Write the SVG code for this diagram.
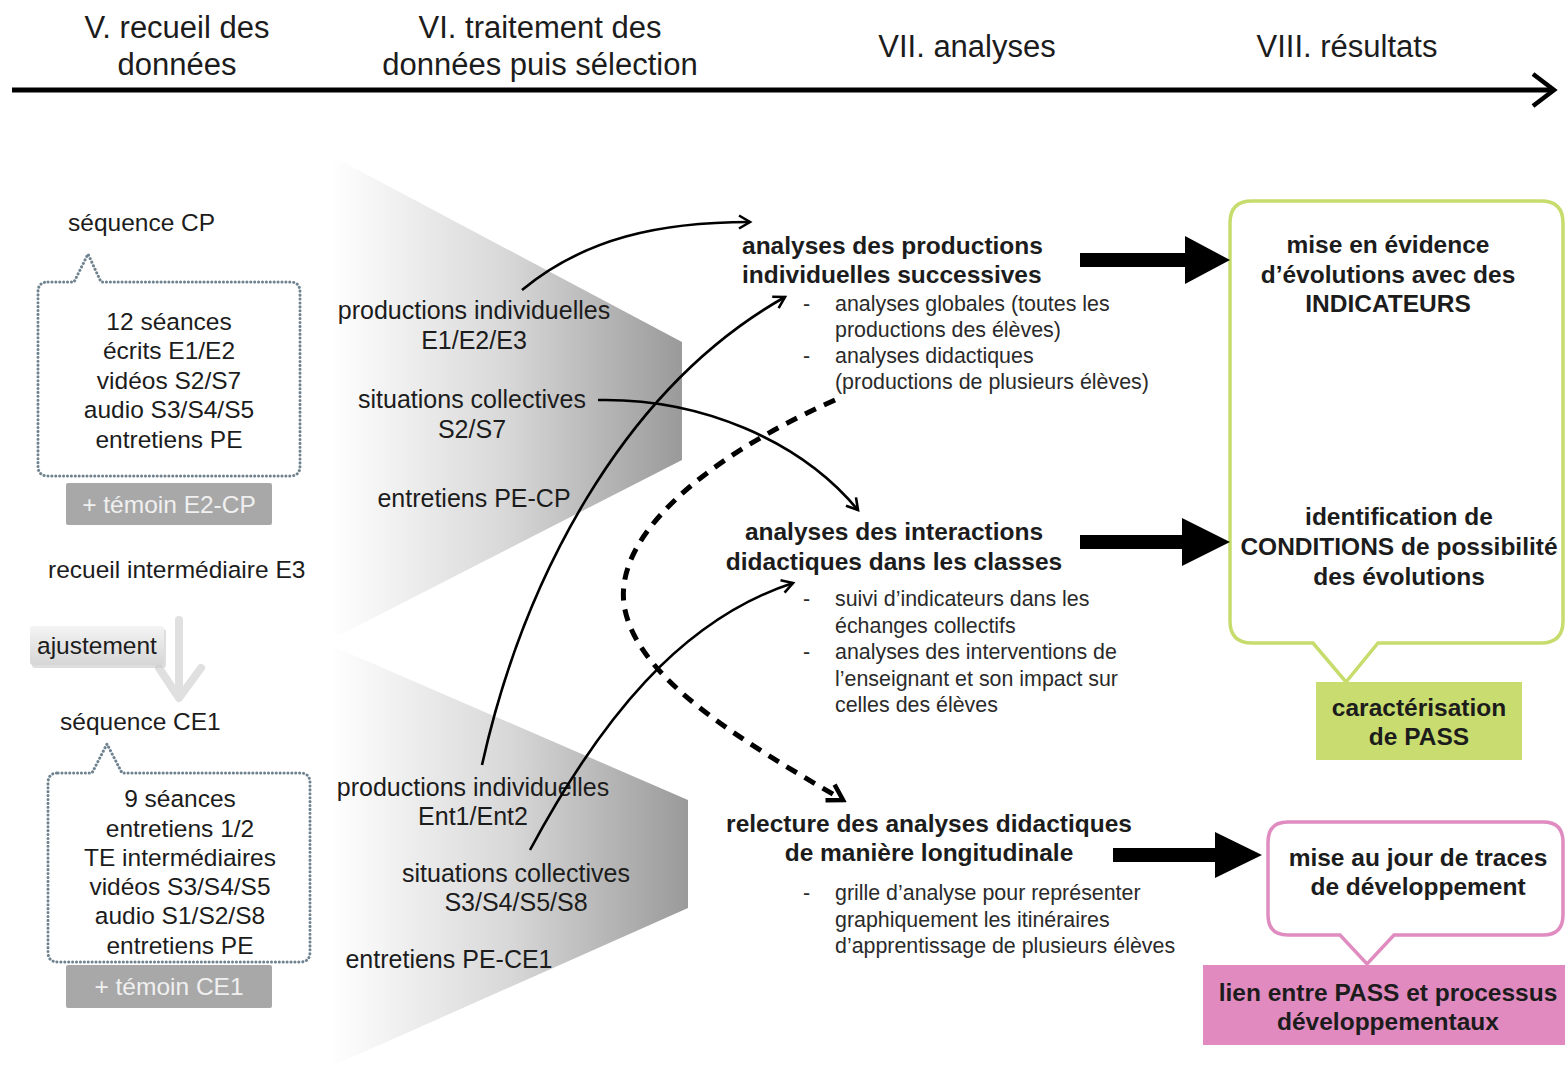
<svg xmlns="http://www.w3.org/2000/svg" width="1565" height="1067" viewBox="0 0 1565 1067">
<defs>
<linearGradient id="fun" x1="0" y1="0" x2="1" y2="0">
<stop offset="0" stop-color="#ffffff"/>
<stop offset="0.5" stop-color="#d8d8d8"/>
<stop offset="1" stop-color="#9a9a9a"/>
</linearGradient>
<linearGradient id="adj" x1="0" y1="0" x2="0" y2="1">
<stop offset="0" stop-color="#f4f4f4"/>
<stop offset="1" stop-color="#d6d6d6"/>
</linearGradient>
<marker id="ah" markerWidth="16" markerHeight="16" refX="13" refY="8" orient="auto" markerUnits="userSpaceOnUse">
<path d="M2,1.5 L13,8 L2,14.5" fill="none" stroke="#000" stroke-width="2.6"/>
</marker>
<marker id="ahd" markerWidth="22" markerHeight="22" refX="18" refY="11" orient="auto" markerUnits="userSpaceOnUse">
<path d="M3,2 L18,11 L3,20" fill="none" stroke="#000" stroke-width="4.5"/>
</marker>
<style>
text{font-family:"Liberation Sans",Arial,sans-serif;fill:#1c1c1c}
.hd{font-size:31px}
.t{font-size:24.5px}
.f{font-size:25px}
.m{text-anchor:middle}
.b{font-weight:bold;font-size:24.5px}
.s{font-size:21.4px;fill:#2a2a2a}
.dot{fill:#fff;stroke:#6f828f;stroke-width:3;stroke-dasharray:0.1 3.8;stroke-linecap:round}
.tem{fill:#a8a8a8}
.tw{fill:#f0f0f0;font-size:24.5px;text-anchor:middle}
.thin{fill:none;stroke:#000;stroke-width:2.6;marker-end:url(#ah)}
.big{fill:#000}
</style>
</defs>
<rect width="1565" height="1067" fill="#fff"/>

<g id="header">
<text class="hd m" x="177" y="38">V. recueil des</text>
<text class="hd m" x="177" y="75">données</text>
<text class="hd m" x="540" y="38">VI. traitement des</text>
<text class="hd m" x="540" y="75">données puis sélection</text>
<text class="hd m" x="967" y="57">VII. analyses</text>
<text class="hd m" x="1347" y="57">VIII. résultats</text>
</g>

<g id="funnel-cp">
<polygon points="330,155 682,342 682,460 330,640" fill="url(#fun)"/>
<text class="f m" x="474" y="319">productions individuelles</text>
<text class="f m" x="474" y="349">E1/E2/E3</text>
<text class="f m" x="472" y="408">situations collectives</text>
<text class="f m" x="472" y="438">S2/S7</text>
<text class="f m" x="474" y="507">entretiens PE-CP</text>
</g>

<g id="funnel-ce1">
<polygon points="330,645 688,800 688,908 330,1067" fill="url(#fun)"/>
<text class="f m" x="473" y="796">productions individuelles</text>
<text class="f m" x="473" y="825">Ent1/Ent2</text>
<text class="f m" x="516" y="882">situations collectives</text>
<text class="f m" x="516" y="911">S3/S4/S5/S8</text>
<text class="f m" x="449" y="968">entretiens PE-CE1</text>
</g>

<g id="sequence-cp">
<text class="t" x="68" y="231">séquence CP</text>
<path class="dot" d="M48,282 L74,282 L88,254 L101,282 L290,282 Q300,282 300,292 L300,466 Q300,476 290,476 L48,476 Q38,476 38,466 L38,292 Q38,282 48,282 Z"/>
<text class="t m" x="169" y="330">12 séances</text>
<text class="t m" x="169" y="359">écrits E1/E2</text>
<text class="t m" x="169" y="389">vidéos S2/S7</text>
<text class="t m" x="169" y="418">audio S3/S4/S5</text>
<text class="t m" x="169" y="448">entretiens PE</text>
</g>

<g id="temoin-cp">
<rect class="tem" x="66" y="483" width="206" height="42" rx="2"/>
<text class="tw" x="169" y="513">+ témoin E2-CP</text>
</g>

<g id="recueil-e3">
<text class="t" x="48" y="578">recueil intermédiaire E3</text>
</g>

<g id="ajustement">
<path d="M179,620 L179,696 M159,668 L179,698 L201,668" fill="none" stroke="#e0e0e0" stroke-width="8" stroke-linecap="round" stroke-linejoin="round"/>
<rect x="32" y="629" width="134" height="39" rx="3" fill="#c8c8c8" opacity="0.6"/>
<rect x="30" y="626" width="134" height="39" rx="3" fill="url(#adj)"/>
<text class="t" x="37" y="654">ajustement</text>
</g>

<g id="sequence-ce1">
<text class="t" x="60" y="730">séquence CE1</text>
<path class="dot" d="M58,773 L92,773 L107,744 L122,773 L300,773 Q310,773 310,783 L310,952 Q310,962 300,962 L58,962 Q48,962 48,952 L48,783 Q48,773 58,773 Z"/>
<text class="t m" x="180" y="807">9 séances</text>
<text class="t m" x="180" y="837">entretiens 1/2</text>
<text class="t m" x="180" y="866">TE intermédiaires</text>
<text class="t m" x="180" y="895">vidéos S3/S4/S5</text>
<text class="t m" x="180" y="924">audio S1/S2/S8</text>
<text class="t m" x="180" y="954">entretiens PE</text>
</g>

<g id="temoin-ce1">
<rect class="tem" x="66" y="965" width="206" height="43" rx="2"/>
<text class="tw" x="169" y="995">+ témoin CE1</text>
</g>

<g id="analyses-productions">
<text class="b" x="742" y="254">analyses des productions</text>
<text class="b" x="742" y="283">individuelles successives</text>
<text class="s" x="803" y="311">-</text>
<text class="s" x="835" y="311">analyses globales (toutes les</text>
<text class="s" x="835" y="337">productions des élèves)</text>
<text class="s" x="803" y="363">-</text>
<text class="s" x="835" y="363">analyses didactiques</text>
<text class="s" x="835" y="389">(productions de plusieurs élèves)</text>
</g>

<g id="analyses-interactions">
<text class="b m" x="894" y="540">analyses des interactions</text>
<text class="b m" x="894" y="570">didactiques dans les classes</text>
<text class="s" x="803" y="606">-</text>
<text class="s" x="835" y="606">suivi d’indicateurs dans les</text>
<text class="s" x="835" y="633">échanges collectifs</text>
<text class="s" x="803" y="659">-</text>
<text class="s" x="835" y="659">analyses des interventions de</text>
<text class="s" x="835" y="686">l’enseignant et son impact sur</text>
<text class="s" x="835" y="712">celles des élèves</text>
</g>

<g id="relecture">
<text class="b m" x="929" y="832">relecture des analyses didactiques</text>
<text class="b m" x="929" y="861">de manière longitudinale</text>
<text class="s" x="803" y="900">-</text>
<text class="s" x="835" y="900">grille d’analyse pour représenter</text>
<text class="s" x="835" y="927">graphiquement les itinéraires</text>
<text class="s" x="835" y="953">d’apprentissage de plusieurs élèves</text>
</g>

<g id="resultats-green">
<path d="M1252,201 H1541 Q1563,201 1563,223 V621 Q1563,643 1541,643 H1378 L1346,682 L1313,643 H1252 Q1230,643 1230,621 V223 Q1230,201 1252,201 Z" fill="#fff" stroke="#c6dc6c" stroke-width="3.5"/>
<text class="b m" x="1388" y="253">mise en évidence</text>
<text class="b m" x="1388" y="283">d’évolutions avec des</text>
<text class="b m" x="1388" y="312">INDICATEURS</text>
<text class="b m" x="1399" y="525">identification de</text>
<text class="b m" x="1399" y="555">CONDITIONS de possibilité</text>
<text class="b m" x="1399" y="585">des évolutions</text>
</g>

<g id="caracterisation">
<rect x="1316" y="682" width="206" height="78" fill="#c9dc6f"/>
<text class="b m" x="1419" y="716">caractérisation</text>
<text class="b m" x="1419" y="745">de PASS</text>
</g>

<g id="resultats-pink">
<path d="M1288,822 H1543 Q1563,822 1563,842 V915 Q1563,935 1543,935 H1394 L1367,964 L1340,935 H1288 Q1268,935 1268,915 V842 Q1268,822 1288,822 Z" fill="#fff" stroke="#e08cc0" stroke-width="3.5"/>
<text class="b m" x="1418" y="866">mise au jour de traces</text>
<text class="b m" x="1418" y="895">de développement</text>
</g>

<g id="lien-pass">
<rect x="1203" y="965" width="362" height="80" fill="#e18abf"/>
<text class="b m" x="1388" y="1001">lien entre PASS et processus</text>
<text class="b m" x="1388" y="1030">développementaux</text>
</g>

<g id="connectors">
<line x1="12" y1="90" x2="1552" y2="90" stroke="#000" stroke-width="5"/>
<path d="M1533,74 L1554,90 L1533,106" fill="none" stroke="#000" stroke-width="4.5"/>
<path class="thin" d="M522,290 C585,238 660,222 750,222"/>
<path class="thin" d="M482,765 C522,585 620,390 785,297"/>
<path class="thin" d="M598,400 C700,398 800,440 858,510"/>
<path class="thin" d="M530,850 C600,720 680,620 793,583"/>
<path d="M835,400 C700,460 610,540 625,610 C640,680 740,740 843,800" fill="none" stroke="#000" stroke-width="5" stroke-dasharray="12 9" marker-end="url(#ahd)"/>
<polygon class="big" points="1080,253 1185,253 1185,236 1230,260 1185,284 1185,267 1080,267"/>
<polygon class="big" points="1080,535 1182,535 1182,518 1230,542 1182,566 1182,549 1080,549"/>
<polygon class="big" points="1113,848 1215,848 1215,832 1262,855 1215,878 1215,862 1113,862"/>
</g>
</svg>
